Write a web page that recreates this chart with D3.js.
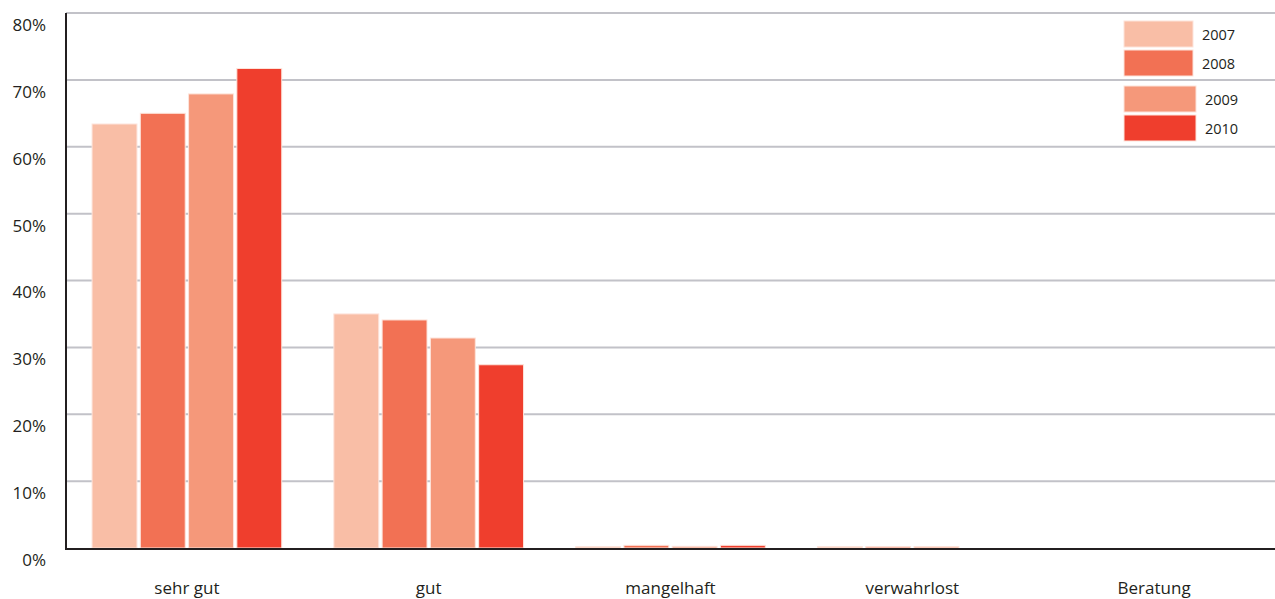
<!DOCTYPE html>
<html lang="de">
<head>
    <meta charset="UTF-8">
    <title>Bewertung 2007-2010</title>
    <script src="https://cdn.jsdelivr.net/npm/d3@7/dist/d3.min.js"></script>
    <style>
        body { margin: 0; background: #fff; }
        text { font-family: "Open Sans", sans-serif; fill: #231f20; }
    </style>
</head>
<body>
    <div id="chart"></div>
    <script>
        // data (percent)
        const categories = ["sehr gut", "gut", "mangelhaft", "verwahrlost", "Beratung"];
        const years = ["2007", "2008", "2009", "2010"];
        const v2007 = [63.4, 35.0, 0.2, 0.2, 0];
        const v2008 = [65.0, 34.1, 0.4, 0.2, 0];
        const v2009 = [67.9, 31.4, 0.25, 0.2, 0];
        const v2010 = [71.7, 27.4, 0.4, 0, 0];
        const yTicks = [0, 10, 20, 30, 40, 50, 60, 70, 80];
        const colors = ["#f9bea6", "#f27154", "#f5987a", "#ef3e2d"];

        const series = [v2007, v2008, v2009, v2010];

        const width = 1275, height = 599;
        const margin = { top: 13, right: 0, bottom: 51, left: 66 };

        const svg = d3.select("#chart").append("svg")
            .attr("width", width)
            .attr("height", height);

        const y = d3.scaleLinear().domain([0, 80]).range([height - margin.bottom, margin.top]);
        const x0 = d3.scaleBand().domain(categories).range([margin.left, width - margin.right]);
        const x1 = d3.scaleBand().domain(years).range([0, x0.bandwidth()])
            .paddingInner(0.07).paddingOuter(0.54);
        const color = d3.scaleOrdinal().domain(years).range(colors);

        // gridlines
        svg.append("g")
            .selectAll("line")
            .data(yTicks.filter(d => d > 0))
            .enter().append("line")
            .attr("x1", margin.left)
            .attr("x2", width)
            .attr("y1", d => y(d))
            .attr("y2", d => y(d))
            .attr("stroke", "#c2c2c8")
            .attr("stroke-width", 2);

        // tick labels sit a bit below their gridline
        svg.append("g")
            .selectAll("text")
            .data(yTicks)
            .enter().append("text")
            .attr("x", 46)
            .attr("y", d => y(d) + 12)
            .attr("dy", "0.35em")
            .attr("text-anchor", "end")
            .style("font-size", "17px")
            .text(d => d + "%");

        // bars
        const groups = svg.append("g")
            .selectAll("g")
            .data(categories)
            .enter().append("g")
            .attr("transform", d => "translate(" + x0(d) + ",0)");

        groups.selectAll("rect")
            .data((d, i) => years.map((yr, j) => ({ year: yr, value: series[j][i] })))
            .enter().append("rect")
            .filter(d => d.value > 0)
            .attr("x", d => x1(d.year))
            .attr("y", d => y(d.value))
            .attr("width", x1.bandwidth())
            .attr("height", d => y(0) - y(d.value))
            .attr("fill", d => color(d.year))
            .attr("stroke", "#fde3da")
            .attr("stroke-width", 1);

        // axes lines
        svg.append("line")
            .attr("x1", margin.left).attr("x2", margin.left)
            .attr("y1", margin.top).attr("y2", y(0) + 1)
            .attr("stroke", "#231f20").attr("stroke-width", 2);
        svg.append("line")
            .attr("x1", margin.left - 1).attr("x2", width)
            .attr("y1", y(0) + 1).attr("y2", y(0) + 1)
            .attr("stroke", "#231f20").attr("stroke-width", 2);

        // category labels
        svg.append("g")
            .selectAll("text")
            .data(categories)
            .enter().append("text")
            .attr("x", d => x0(d) + x0.bandwidth() / 2)
            .attr("y", 594)
            .attr("text-anchor", "middle")
            .style("font-size", "17px")
            .text(d => d);

        // legend
        const legendY = [21, 50, 86, 115];
        const legendW = [69, 69, 72, 72];
        const legend = svg.append("g")
            .selectAll("g")
            .data(years)
            .enter().append("g")
            .attr("transform", (d, i) => "translate(1124," + legendY[i] + ")");
        legend.append("rect")
            .attr("width", (d, i) => legendW[i])
            .attr("height", 26)
            .attr("fill", d => color(d))
            .attr("stroke", "#fde3da");
        legend.append("text")
            .attr("x", (d, i) => legendW[i] + 9)
            .attr("y", 14)
            .attr("dy", "0.35em")
            .style("font-size", "14.5px")
            .text(d => d);
    </script>
</body>
</html>
